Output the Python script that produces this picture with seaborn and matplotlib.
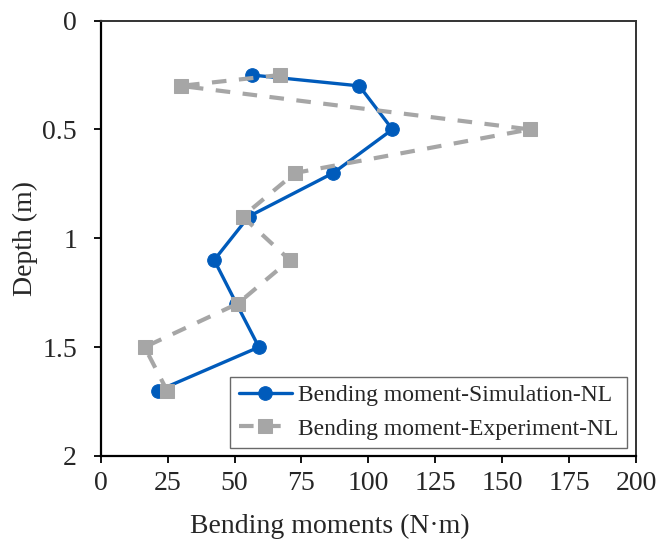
import matplotlib
matplotlib.use("Agg")
import matplotlib.pyplot as plt
import seaborn as sns
import pandas as pd

# Bending moment profiles along the pile depth
sim_depth = [0.25, 0.3, 0.5, 0.7, 0.9, 1.1, 1.3, 1.5, 1.7]
sim_moment = [56.4, 96.6, 109.0, 86.9, 55.3, 42.4, 50.7, 59.1, 21.4]

exp_depth = [0.25, 0.3, 0.5, 0.7, 0.9, 1.1, 1.3, 1.5, 1.7]
exp_moment = [67.1, 29.9, 160.3, 72.6, 53.0, 70.6, 51.2, 16.4, 24.8]

sim_label = "Bending moment-Simulation-NL"
exp_label = "Bending moment-Experiment-NL"

x_ticks = [0, 25, 50, 75, 100, 125, 150, 175, 200]
y_ticks = [0, 0.5, 1, 1.5, 2]
y_tick_labels = ["0", "0.5", "1", "1.5", "2"]

sns.set_theme(style="white")
plt.rcParams["font.family"] = ["Liberation Serif", "DejaVu Serif"]

sim = pd.DataFrame({"moment": sim_moment, "depth": sim_depth})
exp = pd.DataFrame({"moment": exp_moment, "depth": exp_depth})

fig = plt.figure(figsize=(6.6, 5.47), dpi=100)
ax = fig.add_axes([0.1526, 0.1664, 0.811, 0.796])

blue = "#005BBB"
grey = "#A6A6A6"

sns.lineplot(data=sim, x="moment", y="depth", sort=False, estimator=None,
             color=blue, lw=2.4, marker="o", markersize=9.8,
             markeredgecolor=blue, label=sim_label, ax=ax, zorder=3)
sns.lineplot(data=exp, x="moment", y="depth", sort=False, estimator=None,
             color=grey, lw=3, marker="s", markersize=10.5,
             markeredgecolor=grey, label=exp_label, ax=ax, zorder=4)
ax.lines[-1].set_linestyle((0, (3.5, 3.0)))

ax.set_xlim(0, 200)
ax.set_ylim(2, 0)
ax.set_xticks(x_ticks)
ax.set_yticks(y_ticks)
ax.set_yticklabels(y_tick_labels)
ax.tick_params(axis="both", which="both", direction="out", length=5,
               width=1.3, color="black", labelsize=20,
               bottom=True, left=True, top=False, right=False)
ax.tick_params(axis="x", pad=6)
ax.tick_params(axis="y", pad=12)

for side, sp in ax.spines.items():
    sp.set_visible(True)
    sp.set_linewidth(1.6 if side in ("left", "bottom") else 1.4)
    sp.set_color("black" if side in ("left", "bottom") else "#333333")

ax.set_xlabel("Bending moments (N·m)", fontsize=20)
ax.xaxis.set_label_coords(0.4284, -0.1768)
ax.xaxis.label.set_verticalalignment("baseline")
ax.set_ylabel("Depth (m)", fontsize=20)
ax.yaxis.set_label_coords(-0.117, 0.5)

leg = ax.legend(loc="lower right", bbox_to_anchor=(0.9832, 0.0184),
                fontsize=17, frameon=True, fancybox=False,
                edgecolor="#444444", handlelength=2.25, handletextpad=0.28,
                borderpad=0.35, labelspacing=0.5, borderaxespad=0.0)
leg.get_frame().set_linewidth(1.0)

fig.savefig("out.png", dpi=100)
